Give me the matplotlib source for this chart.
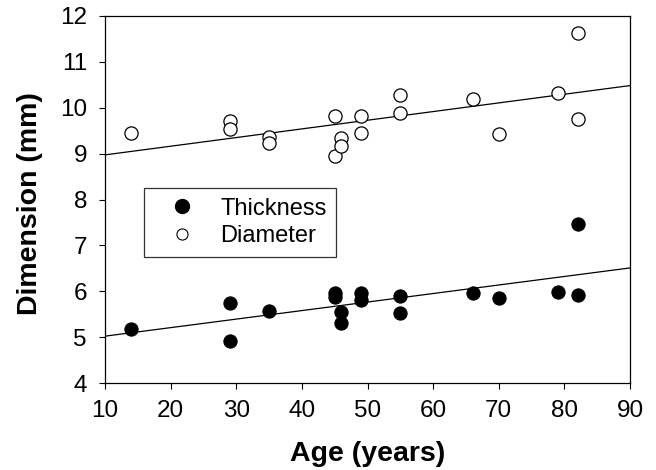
import numpy as np
import matplotlib
matplotlib.use('Agg')
import matplotlib.pyplot as plt
from matplotlib.lines import Line2D

plt.rcParams['font.family'] = ['Liberation Sans', 'DejaVu Sans']

# readings from the chart
age_thick = [14, 29, 29, 35, 45, 45, 46, 46, 49, 49, 55, 55, 66, 70, 79, 82, 82]
thickness = [5.18, 5.74, 4.92, 5.58, 5.96, 5.88, 5.55, 5.30, 5.96, 5.81,
             5.89, 5.52, 5.97, 5.86, 5.98, 7.46, 5.92]

age_diam = [14, 29, 29, 35, 35, 45, 45, 46, 46, 49, 49, 55, 55, 66, 70, 79, 82, 82]
diameter = [9.44, 9.71, 9.53, 9.36, 9.24, 9.82, 8.95, 9.33, 9.17, 9.82, 9.46,
            10.28, 9.88, 10.18, 9.42, 10.33, 11.64, 9.75]

xticks = [10, 20, 30, 40, 50, 60, 70, 80, 90]
yticks = [4, 5, 6, 7, 8, 9, 10, 11, 12]


def main():
    fig = plt.figure(figsize=(6.56, 4.70), dpi=100)
    ax = fig.add_axes([105 / 656, 87 / 470, 525 / 656, 367 / 470])

    # regression lines over the full axis range
    xs = np.array([10, 90])
    for x, y in [(age_thick, thickness), (age_diam, diameter)]:
        b, a = np.polyfit(x, y, 1)
        ax.plot(xs, a + b * xs, color='black', lw=0.9, zorder=2)

    ax.plot(age_thick, thickness, 'o', ms=9.5, mfc='black', mec='black',
            mew=0.8, ls='none', zorder=3)
    ax.plot(age_diam, diameter, 'o', ms=9.5, mfc='white', mec='black',
            mew=0.9, ls='none', zorder=3)

    ax.set_xlim(10, 90)
    ax.set_ylim(4, 12)
    ax.set_xticks(xticks)
    ax.set_yticks(yticks)
    ax.tick_params(direction='out', length=4, width=0.8, labelsize=17.5,
                   top=False, right=False)
    ax.tick_params(axis='y', pad=9)
    ax.tick_params(axis='x', pad=8.5)
    for s in ax.spines.values():
        s.set_linewidth(0.9)

    ax.set_xlabel('Age (years)', fontsize=20.5, fontweight='bold',
                  va='baseline')
    ax.set_ylabel('Dimension (mm)', fontsize=20.5, fontweight='bold')
    ax.xaxis.set_label_coords(0.5, -0.212)
    ax.yaxis.set_label_coords(-0.118, 0.49)

    handles = [
        Line2D([], [], marker='o', ls='none', ms=10, mfc='black', mec='black'),
        Line2D([], [], marker='o', ls='none', ms=8, mfc='white', mec='black',
               mew=0.8),
    ]
    leg = ax.legend(handles, ['Thickness', 'Diameter'], loc='upper left',
                    bbox_to_anchor=(0.074, 0.531), fontsize=17,
                    frameon=True, fancybox=False, edgecolor='black',
                    borderpad=0.4, handlelength=2.4, handletextpad=0.45,
                    labelspacing=0.25, borderaxespad=0)
    leg.get_frame().set_linewidth(0.9)

    fig.savefig('out.png', dpi=100)


if __name__ == "__main__":
    main()
